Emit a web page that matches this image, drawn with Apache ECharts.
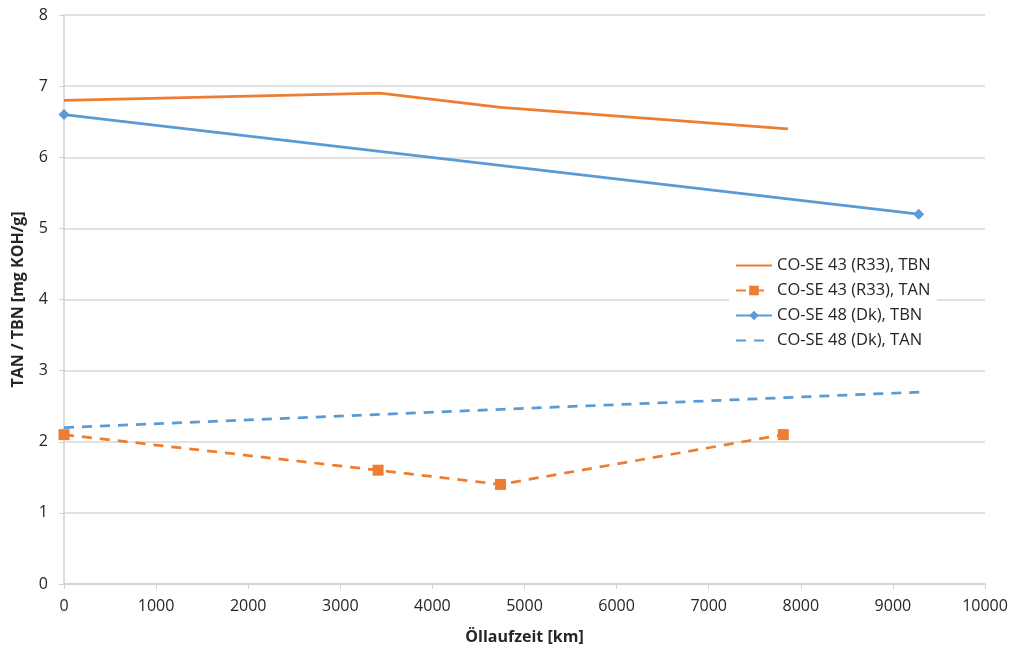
<!DOCTYPE html>
<html><head><meta charset="utf-8">
<script src="https://cdn.jsdelivr.net/npm/echarts@6/dist/echarts.min.js"></script>
<style>html,body{margin:0;padding:0;background:#fff}#c{width:1012px;height:651px}</style>
</head><body><div id="c"></div>
<script>
const seriesNames = ['CO-SE 43 (R33), TBN','CO-SE 43 (R33), TAN','CO-SE 48 (Dk), TBN','CO-SE 48 (Dk), TAN'];
const r33TBN_km = [0, 3430, 4740, 7860];
const r33TBN_val = [6.8, 6.9, 6.7, 6.4];
const r33TAN_km = [0, 3410, 4740, 7810];
const r33TAN_val = [2.1, 1.6, 1.4, 2.1];
const dkTBN_km = [0, 9280];
const dkTBN_val = [6.6, 5.2];
const dkTAN_km = [0, 9320];
const dkTAN_val = [2.2, 2.7];
const xTicks = {min:0, max:10000, step:1000};
const yTicks = {min:0, max:8, step:1};

const pairs = (xs, ys) => xs.map((x,i)=>[x, ys[i]]);
const ORANGE = '#ED7D31', BLUE = '#5B9BD5';
const font = 'Open Sans, Liberation Sans, sans-serif';
const chart = echarts.init(document.getElementById('c'));
chart.setOption({
  animation:false,
  backgroundColor:'#fff',
  textStyle:{fontFamily:font},
  grid:{left:64, right:27, top:15, bottom:67},
  xAxis:{type:'value', min:xTicks.min, max:xTicks.max, interval:xTicks.step,
    name:'Öllaufzeit [km]', nameLocation:'middle', nameGap:45,
    nameTextStyle:{fontSize:16, fontWeight:'bold', color:'#262626', fontFamily:font},
    axisLine:{show:true, lineStyle:{color:'#d0d0d0', width:1.5}},
    axisTick:{show:true, length:5, lineStyle:{color:'#d0d0d0'}},
    axisLabel:{fontSize:16, color:'#262626', margin:14, formatter:v=>String(v)},
    splitLine:{show:false}},
  yAxis:{type:'value', min:yTicks.min, max:yTicks.max, interval:yTicks.step,
    name:'TAN / TBN [mg KOH/g]', nameLocation:'middle', nameGap:38, nameRotate:90,
    nameTextStyle:{fontSize:16, fontWeight:'bold', color:'#262626', fontFamily:font},
    axisLine:{show:true, lineStyle:{color:'#d0d0d0', width:1.5}},
    axisTick:{show:true, length:5, lineStyle:{color:'#d0d0d0'}},
    axisLabel:{fontSize:16, color:'#262626', margin:16},
    splitLine:{show:true, lineStyle:{color:'#d9d9d9', width:1.5}}},
  legend:{orient:'vertical', left:729, top:253, itemWidth:36, itemHeight:12, itemGap:8,
    backgroundColor:'#fff', padding:[4,6,4,6],
    textStyle:{fontSize:16.5, color:'#262626', fontFamily:font},
    data:[{name:seriesNames[0], itemStyle:{opacity:0}}, {name:seriesNames[1]}, {name:seriesNames[2]}, {name:seriesNames[3], itemStyle:{opacity:0}}]},
  series:[
    {name:seriesNames[0], type:'line', data:pairs(r33TBN_km, r33TBN_val), symbol:'none',
      lineStyle:{color:ORANGE, width:2.75}, itemStyle:{color:ORANGE}},
    {name:seriesNames[1], type:'line', data:pairs(r33TAN_km, r33TAN_val), symbol:'rect', symbolSize:11,
      lineStyle:{color:ORANGE, width:2.75, type:[10,8]}, itemStyle:{color:ORANGE}},
    {name:seriesNames[2], type:'line', data:pairs(dkTBN_km, dkTBN_val), symbol:'diamond', symbolSize:11,
      lineStyle:{color:BLUE, width:2.75}, itemStyle:{color:BLUE}},
    {name:seriesNames[3], type:'line', data:pairs(dkTAN_km, dkTAN_val), symbol:'none',
      lineStyle:{color:BLUE, width:2.75, type:[10,8]}, itemStyle:{color:BLUE}}
  ]
});
</script></body></html>
